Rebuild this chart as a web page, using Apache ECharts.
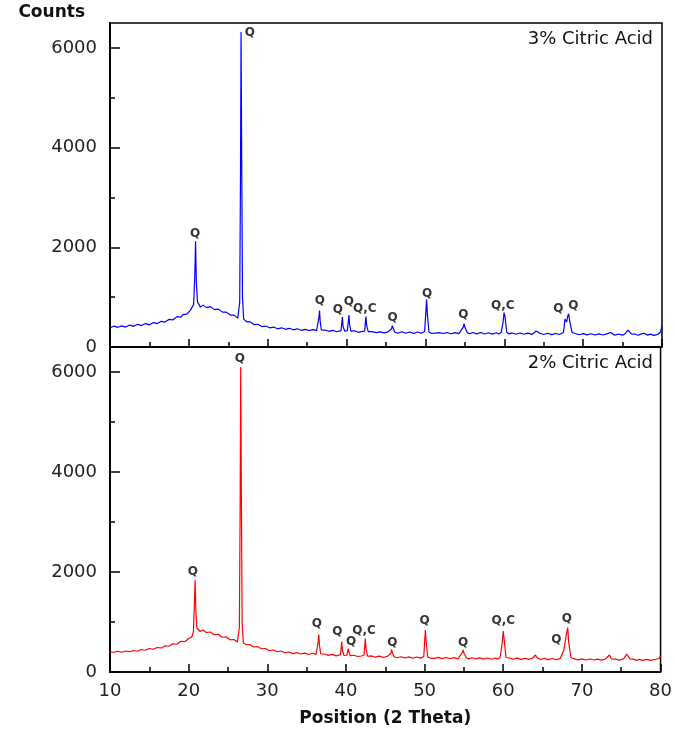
<!DOCTYPE html>
<html>
<head>
<meta charset="utf-8">
<script src="https://cdn.jsdelivr.net/npm/echarts@6/dist/echarts.min.js"></script>
<style>
  html, body { margin: 0; padding: 0; background: #fff; }
  #chart { width: 675px; height: 731px; }
</style>
</head>
<body>
<div id="chart"></div>
<script>
// 2theta / counts pairs
var pattern3 = [
  [10,380],[10.25,405],[10.5,420],[10.75,390],[11,395],[11.25,420],[11.5,425],[11.75,400],[12,400],[12.25,430],
  [12.5,440],[12.75,410],[13,415],[13.25,445],[13.5,455],[13.75,425],[14,430],[14.25,460],[14.5,470],[14.75,440],
  [15,445],[15.25,480],[15.5,490],[15.75,460],[16,470],[16.25,505],[16.5,515],[16.75,490],[17,500],[17.25,540],
  [17.5,555],[17.75,525],[18,545],[18.25,585],[18.5,610],[18.75,580],[19,600],[19.25,650],[19.5,680],[19.75,660],
  [20,690],[20.2,740],[20.4,780],[20.6,850],[20.75,1400],[20.85,2120],[20.95,1300],[21.1,900],[21.3,850],[21.45,800],
  [21.6,790],[21.8,840],[22,830],[22.25,790],[22.5,770],[22.75,810],[23,790],[23.25,750],[23.5,730],[23.75,760],
  [24,740],[24.25,700],[24.5,670],[24.75,700],[25,680],[25.25,640],[25.5,620],[25.75,640],[26,615],[26.2,580],
  [26.3,570],[26.45,900],[26.55,3500],[26.62,6320],[26.7,3800],[26.8,1000],[26.95,560],[27.2,530],[27.35,505],
  [27.5,490],[27.75,505],[28,480],[28.25,450],[28.5,435],[28.75,455],[29,440],[29.25,410],[29.5,400],[29.75,420],
  [30,415],[30.25,385],[30.5,380],[30.75,400],[31,395],[31.25,365],[31.5,360],[31.75,385],[32,380],[32.25,355],
  [32.5,350],[32.75,375],[33,370],[33.25,345],[33.5,340],[33.75,365],[34,360],[34.25,335],[34.5,330],[34.75,355],
  [35,355],[35.25,330],[35.5,325],[35.75,350],[36,350],[36.2,330],[36.35,350],[36.5,600],[36.57,730],
  [36.65,520],[36.8,345],[37,315],[37.25,340],[37.5,345],[37.75,315],[38,305],[38.25,335],[38.5,335],[38.75,305],
  [39,300],[39.3,330],[39.42,520],[39.47,600],[39.55,420],[39.75,320],[39.9,300],[40.1,330],[40.25,560],[40.3,640],
  [40.38,450],[40.55,320],[40.75,300],[41,325],[41.25,300],[41.5,295],[41.75,320],[42,315],[42.3,320],[42.4,520],
  [42.46,610],[42.55,430],[42.75,310],[43,285],[43.25,310],[43.5,315],[43.75,290],[44,285],[44.25,305],[44.5,310],
  [44.75,285],[45,280],[45.25,305],[45.5,305],[45.7,360],[45.8,430],[45.9,380],[46.1,300],[46.25,280],[46.5,275],
  [46.75,300],[47,305],[47.25,280],[47.5,275],[47.75,300],[48,300],[48.25,275],[48.5,270],[48.75,295],[49,300],
  [49.25,275],[49.5,275],[49.9,310],[50.05,700],[50.15,950],[50.25,650],[50.45,300],[50.75,275],[51,300],
  [51.25,280],[51.5,270],[51.75,290],[52,295],[52.25,270],[52.5,265],[52.75,290],[53,290],[53.25,265],[53.5,262],
  [53.75,288],[54,290],[54.25,268],[54.5,270],[54.8,400],[54.9,470],[55,400],[55.3,290],[55.6,265],[56,290],
  [56.25,265],[56.5,262],[56.75,288],[57,290],[57.25,262],[57.5,260],[57.75,285],[58,285],[58.25,260],[58.5,258],
  [58.75,282],[59,285],[59.3,262],[59.6,290],[59.85,500],[59.97,690],[60.1,600],[60.3,300],[60.6,262],[60.8,285],
  [61,282],[61.25,258],[61.5,255],[61.75,280],[62,280],[62.25,256],[62.5,255],[62.75,278],[63,278],[63.25,254],
  [63.5,252],[63.75,275],[64.05,320],[64.25,285],[64.5,275],[64.75,252],[65,250],[65.25,272],[65.5,275],[65.75,250],
  [66,248],[66.25,268],[66.5,270],[66.75,248],[67,250],[67.25,272],[67.5,290],[67.7,560],[67.78,590],
  [67.9,500],[68.05,620],[68.15,670],[68.3,520],[68.6,290],[68.8,255],[69,270],[69.25,250],[69.5,245],[69.75,266],
  [70,268],[70.25,244],[70.5,242],[70.75,262],[71,265],[71.25,242],[71.5,240],[71.75,262],[72,262],[72.25,240],
  [72.5,240],[72.75,260],[73,262],[73.25,255],[73.5,290],[73.75,255],[74,238],[74.25,258],[74.5,260],[74.75,238],
  [75,238],[75.3,262],[75.7,340],[76.1,262],[76.3,240],[76.5,260],[76.75,238],[77,235],[77.3,258],[77.7,275],
  [77.95,255],[78.2,238],[78.5,258],[78.75,236],[79,232],[79.25,254],[79.5,255],[79.8,300],[80,430]
];

var pattern2 = [
  [10,400],[10.25,420],[10.5,395],[10.75,390],[11,415],[11.25,420],[11.5,395],[11.75,395],[12,420],[12.25,425],
  [12.5,405],[12.75,405],[13,430],[13.25,435],[13.5,415],[13.75,420],[14,450],[14.25,455],[14.5,435],[14.75,440],
  [15,470],[15.25,475],[15.5,455],[15.75,465],[16,490],[16.25,500],[16.5,480],[16.75,495],[17,525],[17.25,535],
  [17.5,515],[17.75,530],[18,565],[18.25,575],[18.5,555],[18.75,575],[19,615],[19.25,625],[19.5,605],[19.75,630],
  [20,670],[20.2,690],[20.4,700],[20.6,800],[20.72,1300],[20.82,1840],[20.92,1200],[21.05,880],[21.3,850],[21.45,810],
  [21.6,805],[21.8,840],[22,830],[22.25,790],[22.5,775],[22.75,800],[23,780],[23.25,745],[23.5,730],[23.75,755],
  [24,730],[24.25,695],[24.5,680],[24.75,705],[25,680],[25.25,645],[25.5,630],[25.75,650],[26,630],[26.2,600],
  [26.3,595],[26.45,900],[26.55,3400],[26.62,6100],[26.7,3600],[26.8,1000],[26.95,580],[27.2,570],[27.35,545],
  [27.5,530],[27.75,550],[28,530],[28.25,500],[28.5,490],[28.75,510],[29,490],[29.25,465],[29.5,450],[29.75,470],
  [30,455],[30.25,430],[30.5,420],[30.75,440],[31,430],[31.25,405],[31.5,400],[31.75,420],[32,410],[32.25,385],
  [32.5,380],[32.75,400],[33,392],[33.25,368],[33.5,365],[33.75,388],[34,382],[34.25,360],[34.5,355],[34.75,378],
  [35,372],[35.25,350],[35.5,355],[35.75,375],[36,368],[36.2,350],[36.35,370],[36.48,620],[36.55,750],
  [36.63,540],[36.8,360],[37,335],[37.25,360],[37.5,360],[37.75,332],[38,328],[38.25,352],[38.5,350],[38.75,322],
  [39,318],[39.3,345],[39.42,530],[39.47,610],[39.55,430],[39.75,330],[39.9,315],[40.1,335],[40.25,420],[40.3,470],
  [40.38,400],[40.55,325],[40.75,310],[41,335],[41.25,312],[41.5,310],[41.75,332],[42,320],[42.3,340],[42.4,560],
  [42.46,670],[42.55,470],[42.75,315],[43,298],[43.25,322],[43.5,320],[43.75,296],[44,292],[44.25,318],[44.5,315],
  [44.75,290],[45,288],[45.25,312],[45.5,305],[45.7,370],[45.8,450],[45.9,390],[46.1,305],[46.25,285],[46.5,285],
  [46.75,308],[47,305],[47.25,282],[47.5,280],[47.75,304],[48,302],[48.25,278],[48.5,276],[48.75,300],[49,300],
  [49.25,276],[49.5,278],[49.9,310],[50.02,650],[50.1,840],[50.2,600],[50.4,300],[50.75,274],[51,296],
  [51.25,274],[51.5,270],[51.75,292],[52,292],[52.25,268],[52.5,266],[52.75,290],[53,290],[53.25,265],[53.5,264],
  [53.75,286],[54,286],[54.25,264],[54.5,275],[54.8,390],[54.9,440],[55,380],[55.3,285],[55.6,262],[56,285],
  [56.25,262],[56.5,260],[56.75,284],[57,282],[57.25,258],[57.5,258],[57.75,282],[58,280],[58.25,256],[58.5,256],
  [58.75,280],[59,280],[59.3,258],[59.6,290],[59.88,600],[60,820],[60.12,640],[60.35,290],[60.6,258],[60.8,280],
  [61,278],[61.25,255],[61.5,255],[61.75,278],[62,276],[62.25,252],[62.5,252],[62.75,276],[63,274],[63.25,252],
  [63.5,255],[63.75,280],[64.1,340],[64.3,285],[64.5,270],[64.75,250],[65,250],[65.25,272],[65.5,270],[65.75,248],
  [66,248],[66.25,270],[66.5,268],[66.75,246],[67,250],[67.25,272],[67.5,300],[67.7,440],[67.78,470],
  [67.9,420],[68.08,800],[68.2,890],[68.32,600],[68.6,290],[68.8,250],[69,266],[69.25,244],[69.5,244],[69.75,264],
  [70,262],[70.25,240],[70.5,240],[70.75,262],[71,260],[71.25,238],[71.5,240],[71.75,260],[72,258],[72.25,238],
  [72.5,238],[72.75,258],[73,260],[73.25,262],[73.5,340],[73.75,262],[74,238],[74.25,258],[74.5,258],[74.75,236],
  [75,236],[75.3,262],[75.7,360],[76.1,262],[76.3,236],[76.5,256],[76.75,236],[77,234],[77.3,254],[77.5,254],
  [77.75,234],[78,232],[78.25,252],[78.5,252],[78.75,232],[79,230],[79.25,250],[79.5,252],[79.8,270],[80,320]
];

// phase labels: [2theta, counts, text]
var peaks3 = [
  [20.8,2260,'Q'],[27.75,6310,'Q'],[36.6,930,'Q'],[38.9,740,'Q'],[40.3,900,'Q'],[42.3,760,'Q,C'],
  [45.85,590,'Q'],[50.2,1060,'Q'],[54.8,640,'Q'],[59.8,820,'Q,C'],[66.85,760,'Q'],[68.75,820,'Q']
];
var peaks2 = [
  [20.55,2000,'Q'],[26.5,6270,'Q'],[36.3,960,'Q'],[38.9,800,'Q'],[40.65,600,'Q'],[42.3,820,'Q,C'],
  [45.9,590,'Q'],[50.0,1030,'Q'],[54.9,580,'Q'],[60.0,1020,'Q,C'],[66.75,640,'Q'],[68.1,1060,'Q']
];

var majorY = [0, 2000, 4000, 6000];
var minorY = [1000, 3000, 5000];
var panelNames = ['3% Citric Acid', '2% Citric Acid'];

var font = 'DejaVu Sans';
var chart = echarts.init(document.getElementById('chart'));

function xAxis(grid, labels) {
  return {
    type: 'value', gridIndex: grid, min: 10, max: 80, interval: 10,
    axisLine: { lineStyle: { color: '#000', width: 1.5 } },
    axisTick: { inside: true, length: 8, lineStyle: { color: '#000', width: 1.5 } },
    minorTick: { show: true, splitNumber: 2, length: 5, lineStyle: { color: '#000', width: 1.5 } },
    splitLine: { show: false },
    axisLabel: { show: labels, color: '#222', fontFamily: font, fontSize: 18, margin: 10 },
    name: labels ? 'Position (2 Theta)' : '',
    nameLocation: 'middle', nameGap: 38,
    nameTextStyle: { fontFamily: font, fontWeight: 'bold', fontSize: 17, color: '#111' }
  };
}

function yMajor(grid, name) {
  return {
    type: 'value', gridIndex: grid, min: 0, max: 6500,
    axisLine: { show: true, lineStyle: { color: '#000', width: 2 } },
    axisTick: { inside: true, length: 10, customValues: majorY, lineStyle: { color: '#000', width: 1.5 } },
    axisLabel: { customValues: majorY, color: '#222', fontFamily: font, fontSize: 18, margin: 13,
      formatter: function (v) { return String(v); } },
    splitLine: { show: false },
    name: name, nameLocation: 'end', nameGap: 2,
    nameTextStyle: { fontFamily: font, fontWeight: 'bold', fontSize: 17, color: '#111', align: 'right', padding: [0, 25, 0, 0] }
  };
}

function yMinor(grid) {
  return {
    type: 'value', gridIndex: grid, min: 0, max: 6500, position: 'left',
    axisLine: { show: false },
    axisTick: { inside: true, length: 5, customValues: minorY, lineStyle: { color: '#000', width: 1.5 } },
    axisLabel: { show: false },
    splitLine: { show: false }
  };
}

function labelSeries(data, xi, yi) {
  return {
    type: 'scatter', xAxisIndex: xi, yAxisIndex: yi, data: data, symbolSize: 0, silent: true, z: 5,
    label: {
      show: true, position: 'inside', color: '#000', fontFamily: font, fontWeight: 'bold', fontSize: 12,
      formatter: function (p) { return p.data[2]; }
    }
  };
}

chart.setOption({
  animation: false,
  title: [
    { text: panelNames[0], right: 22, top: 30, padding: 0,
      textStyle: { fontFamily: font, fontWeight: 'normal', fontSize: 18, color: '#111' } },
    { text: panelNames[1], right: 22, top: 354, padding: 0,
      textStyle: { fontFamily: font, fontWeight: 'normal', fontSize: 18, color: '#111' } }
  ],
  grid: [
    { left: 110, right: 13, top: 23, height: 324, show: true, borderColor: '#000', borderWidth: 1.5 },
    { left: 110, right: 13, top: 347, height: 325, show: true, borderColor: '#000', borderWidth: 1.5 }
  ],
  xAxis: [xAxis(0, false), xAxis(1, true)],
  yAxis: [yMajor(0, 'Counts'), yMinor(0), yMajor(1, ''), yMinor(1)],
  series: [
    { type: 'line', xAxisIndex: 0, yAxisIndex: 0, data: pattern3, showSymbol: false, silent: true,
      lineStyle: { color: '#0000ff', width: 1.2 } },
    { type: 'line', xAxisIndex: 1, yAxisIndex: 2, data: pattern2, showSymbol: false, silent: true,
      lineStyle: { color: '#ff0000', width: 1.2 } },
    labelSeries(peaks3, 0, 0),
    labelSeries(peaks2, 1, 2)
  ]
});
</script>
</body>
</html>
